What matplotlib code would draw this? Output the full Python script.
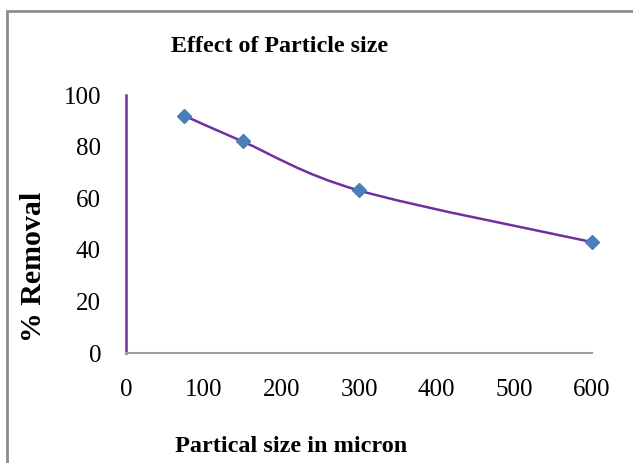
import matplotlib.pyplot as plt
from matplotlib.path import Path
from matplotlib.patches import PathPatch, Rectangle

particle_size = [75, 150, 300, 600]
removal_pct = [92, 82, 63, 43]
x_ticks = [0, 100, 200, 300, 400, 500, 600]
y_ticks = [0, 20, 40, 60, 80, 100]

LINE_COLOR = '#7030A0'
MARKER_COLOR = '#4A7EBB'


def smooth_path(xs, ys, tension=1 / 6):
    """Bezier path through the points, like Excel's smoothed line."""
    pts = list(zip(xs, ys))
    verts = [pts[0]]
    codes = [Path.MOVETO]
    for i in range(len(pts) - 1):
        p0 = pts[max(i - 1, 0)]
        p1 = pts[i]
        p2 = pts[i + 1]
        p3 = pts[min(i + 2, len(pts) - 1)]
        c1 = (p1[0] + (p2[0] - p0[0]) * tension, p1[1] + (p2[1] - p0[1]) * tension)
        c2 = (p2[0] - (p3[0] - p1[0]) * tension, p2[1] - (p3[1] - p1[1]) * tension)
        verts += [c1, c2, p2]
        codes += [Path.CURVE4] * 3
    return Path(verts, codes)


plt.rcParams['font.family'] = ['Liberation Serif', 'DejaVu Serif']

fig = plt.figure(figsize=(6.33, 4.63), dpi=100)
ax = fig.add_axes([126 / 633, 110 / 463, 466 / 633, 258 / 463])

# outer chart border (only left and top visible in the crop)
fig.patches.append(Rectangle((7 / 633, -0.1), 1.2, (463 - 11) / 463 + 0.1,
                             transform=fig.transFigure, fill=False,
                             edgecolor='#8c8c8c', linewidth=2))

ax.add_patch(PathPatch(smooth_path(particle_size, removal_pct), facecolor='none',
                       edgecolor=LINE_COLOR, linewidth=1.8))
ax.plot(particle_size, removal_pct, linestyle='none', marker='D', markersize=7.5,
        color=MARKER_COLOR, clip_on=False)

ax.set_xlim(0, 600)
ax.set_ylim(0, 100)
ax.set_xticks(x_ticks)
ax.set_yticks(y_ticks)
ax.tick_params(length=0, labelsize=18)
ax.tick_params(axis='x', pad=19)
ax.tick_params(axis='y', pad=18)

for side in ['top', 'right']:
    ax.spines[side].set_visible(False)
ax.spines['left'].set_color(LINE_COLOR)
ax.spines['left'].set_linewidth(1.8)
ax.spines['bottom'].set_color('#a0a0a0')
ax.spines['bottom'].set_linewidth(1.5)

fig.text(280 / 633, 1 - 46 / 463, 'Effect of Particle size', ha='center', va='center',
         fontsize=17.3, fontweight='bold')
fig.text(291 / 633, 1 - 447 / 463, 'Partical size in micron', ha='center', va='center',
         fontsize=17.5, fontweight='bold')
fig.text(34 / 633, 1 - 267 / 463, '% Removal', ha='center', va='center', rotation=90,
         fontsize=21.5, fontweight='bold')

fig.savefig('out.png', dpi=100)
